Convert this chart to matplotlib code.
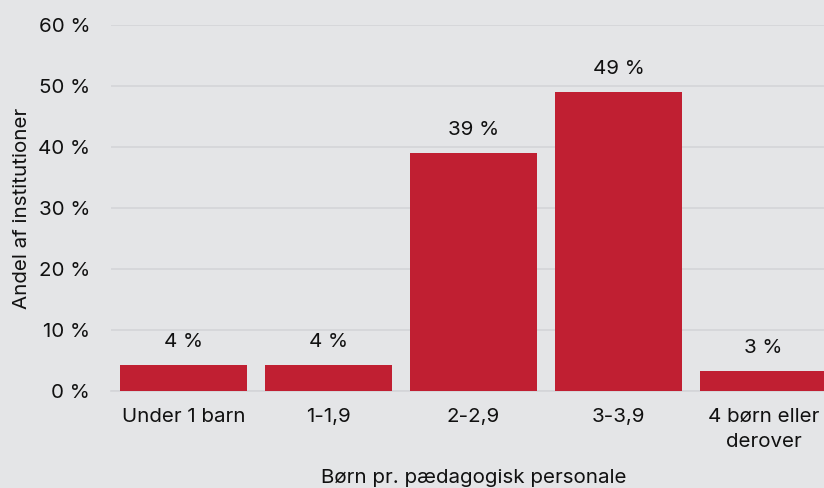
import matplotlib
matplotlib.use("Agg")
import matplotlib.pyplot as plt

categories = ["Under 1 barn", "1-1,9", "2-2,9", "3-3,9", "4 børn eller\nderover"]
values = [4.3, 4.3, 39.0, 49.0, 3.3]
labels = ["4 %", "4 %", "39 %", "49 %", "3 %"]
yticks = [0, 10, 20, 30, 40, 50, 60]

bg = "#e4e5e7"
bar_color = "#c01f32"
grid_color = "#d4d5d8"
text_color = "#111111"
fs = 14.8

plt.rcParams['font.family'] = ['Inter', 'DejaVu Sans']

fig = plt.figure(figsize=(8.24, 4.88), dpi=100, facecolor=bg)
ax = fig.add_axes([111/824, (488-391)/488, 725/824, (391-25)/488])
ax.set_facecolor(bg)

x = range(len(categories))
bars = ax.bar(x, values, width=0.87, color=bar_color, zorder=3)
ax.set_xlim(-0.5, len(categories) - 0.5)
ax.set_ylim(0, 60)
ax.set_yticks(yticks)
ax.set_yticklabels([f"{t} %" for t in yticks], fontsize=fs, color=text_color)
ax.set_xticks(list(x))
ax.set_xticklabels(categories, fontsize=fs, color=text_color, linespacing=1.5)
ax.tick_params(axis='y', length=0, pad=15)
ax.tick_params(axis='x', length=0, pad=12)
ax.grid(axis='y', color=grid_color, linewidth=1.2, zorder=0)
for s in ["top", "right", "left"]:
    ax.spines[s].set_visible(False)
ax.spines["bottom"].set_color(grid_color)
ax.spines["bottom"].set_linewidth(1.2)

for xi, v, lab in zip(x, values, labels):
    ax.annotate(lab, (xi, v), xytext=(0, 10), textcoords="offset points",
                ha="center", va="bottom", fontsize=fs, color=text_color)

ax.set_xlabel("Børn pr. pædagogisk personale", fontsize=fs, color=text_color, labelpad=13)
ax.set_ylabel("Andel af institutioner", fontsize=fs, color=text_color)
ax.yaxis.set_label_coords(-80/725, 0.5)

fig.savefig("out.png", dpi=100, facecolor=bg)
